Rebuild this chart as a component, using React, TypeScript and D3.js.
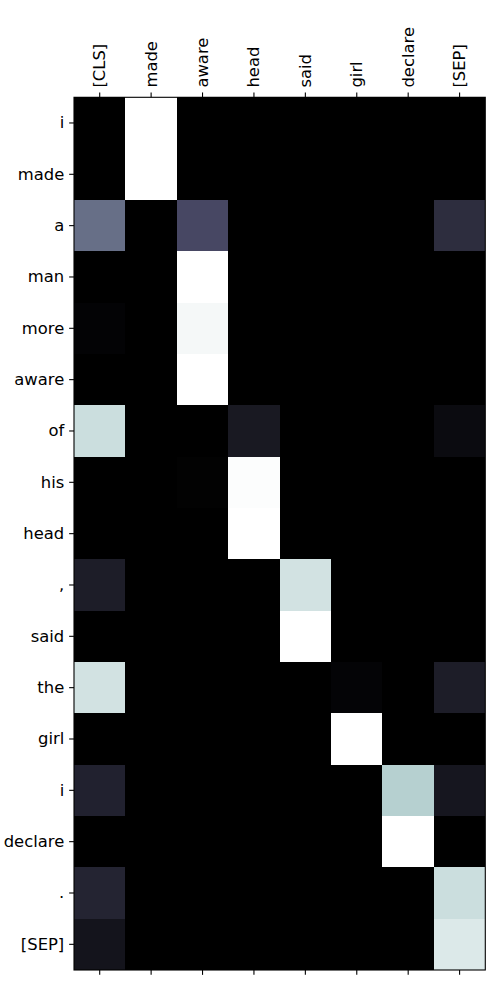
import React from "react";
import * as d3 from "d3";

const colLabels = ["[CLS]", "made", "aware", "head", "said", "girl", "declare", "[SEP]"];
const rowLabels = ["i", "made", "a", "man", "more", "aware", "of", "his", "head", ",", "said", "the", "girl", "i", "declare", ".", "[SEP]"];

const rowI = [0, 1, 0, 0, 0, 0, 0, 0];
const rowMade = [0, 1, 0, 0, 0, 0, 0, 0];
const rowA = [0.46, 0, 0.32, 0, 0, 0, 0, 0.2];
const rowMan = [0, 0, 1, 0, 0, 0, 0, 0];
const rowMore = [0.015, 0, 0.97, 0, 0, 0, 0, 0];
const rowAware = [0, 0, 1, 0, 0, 0, 0, 0];
const rowOf = [0.85, 0, 0, 0.11, 0, 0, 0, 0.05];
const rowHis = [0, 0, 0.008, 0.99, 0, 0, 0, 0];
const rowHead = [0, 0, 0, 1, 0, 0, 0, 0];
const rowComma = [0.13, 0, 0, 0, 0.87, 0, 0, 0];
const rowSaid = [0, 0, 0, 0, 1, 0, 0, 0];
const rowThe = [0.87, 0, 0, 0, 0, 0.02, 0, 0.13];
const rowGirl = [0, 0, 0, 0, 0, 1, 0, 0];
const rowI2 = [0.15, 0, 0, 0, 0, 0, 0.79, 0.1];
const rowDeclare = [0, 0, 0, 0, 0, 0, 1, 0];
const rowDot = [0.16, 0, 0, 0, 0, 0, 0, 0.85];
const rowSep = [0.09, 0, 0, 0, 0, 0, 0, 0.9];

const matrix = [rowI, rowMade, rowA, rowMan, rowMore, rowAware, rowOf, rowHis, rowHead, rowComma, rowSaid, rowThe, rowGirl, rowI2, rowDeclare, rowDot, rowSep];

// matplotlib "bone" colormap
const boneR = d3.scaleLinear<number>().domain([0, 0.746032, 1]).range([0, 0.652778, 1]);
const boneG = d3.scaleLinear<number>().domain([0, 0.365079, 0.746032, 1]).range([0, 0.319444, 0.777778, 1]);
const boneB = d3.scaleLinear<number>().domain([0, 0.365079, 1]).range([0, 0.444444, 1]);
const bone = (v: number) => {
  const t = Math.max(0, Math.min(1, v));
  return d3.rgb(boneR(t) * 255, boneG(t) * 255, boneB(t) * 255).toString();
};

export default function App() {
  const W = 500, H = 1000;
  const left = 74, right = 485.3, top = 97.3, bottom = 970;
  const x = d3.scaleBand<string>().domain(d3.range(colLabels.length).map(String)).range([left, right]);
  const y = d3.scaleBand<string>().domain(d3.range(rowLabels.length).map(String)).range([top, bottom]);
  const tick = 4.86;
  const pad = 4.86;
  const fs = 16.4;
  const font = "DejaVu Sans, sans-serif";

  return (
    <svg width={W} height={H} style={{ position: "absolute", left: 0, top: 0, background: "#fff" }}>
      <rect x={left} y={top} width={right - left} height={bottom - top} fill="#000" shapeRendering="crispEdges" />
      {matrix.map((row, i) =>
        row.map((v, j) => (
          <rect
            key={`${i}-${j}`}
            x={x(String(j))}
            y={y(String(i))}
            width={x.bandwidth()}
            height={y.bandwidth()}
            fill={bone(v)}
            shapeRendering="crispEdges"
          />
        ))
      )}
      <rect x={left} y={top} width={right - left} height={bottom - top} fill="none" stroke="#000" strokeWidth={1.1} />
      {colLabels.map((c, j) => {
        const cx = (x(String(j)) as number) + x.bandwidth() / 2;
        return (
          <g key={"c" + j}>
            <line x1={cx} x2={cx} y1={top} y2={top - tick} stroke="#000" strokeWidth={1.1} />
            <line x1={cx} x2={cx} y1={bottom} y2={bottom + tick} stroke="#000" strokeWidth={1.1} />
            <text
              transform={`translate(${cx},${top - tick - pad}) rotate(-90)`}
              textAnchor="start"
              dominantBaseline="central"
              fontFamily={font}
              fontSize={fs}
              fill="#000"
            >
              {c}
            </text>
          </g>
        );
      })}
      {rowLabels.map((r, i) => {
        const cy = (y(String(i)) as number) + y.bandwidth() / 2;
        return (
          <g key={"r" + i}>
            <line x1={left} x2={left - tick} y1={cy} y2={cy} stroke="#000" strokeWidth={1.1} />
            <text
              x={left - tick - pad}
              y={cy}
              textAnchor="end"
              dominantBaseline="central"
              fontFamily={font}
              fontSize={fs}
              fill="#000"
            >
              {r}
            </text>
          </g>
        );
      })}
    </svg>
  );
}
